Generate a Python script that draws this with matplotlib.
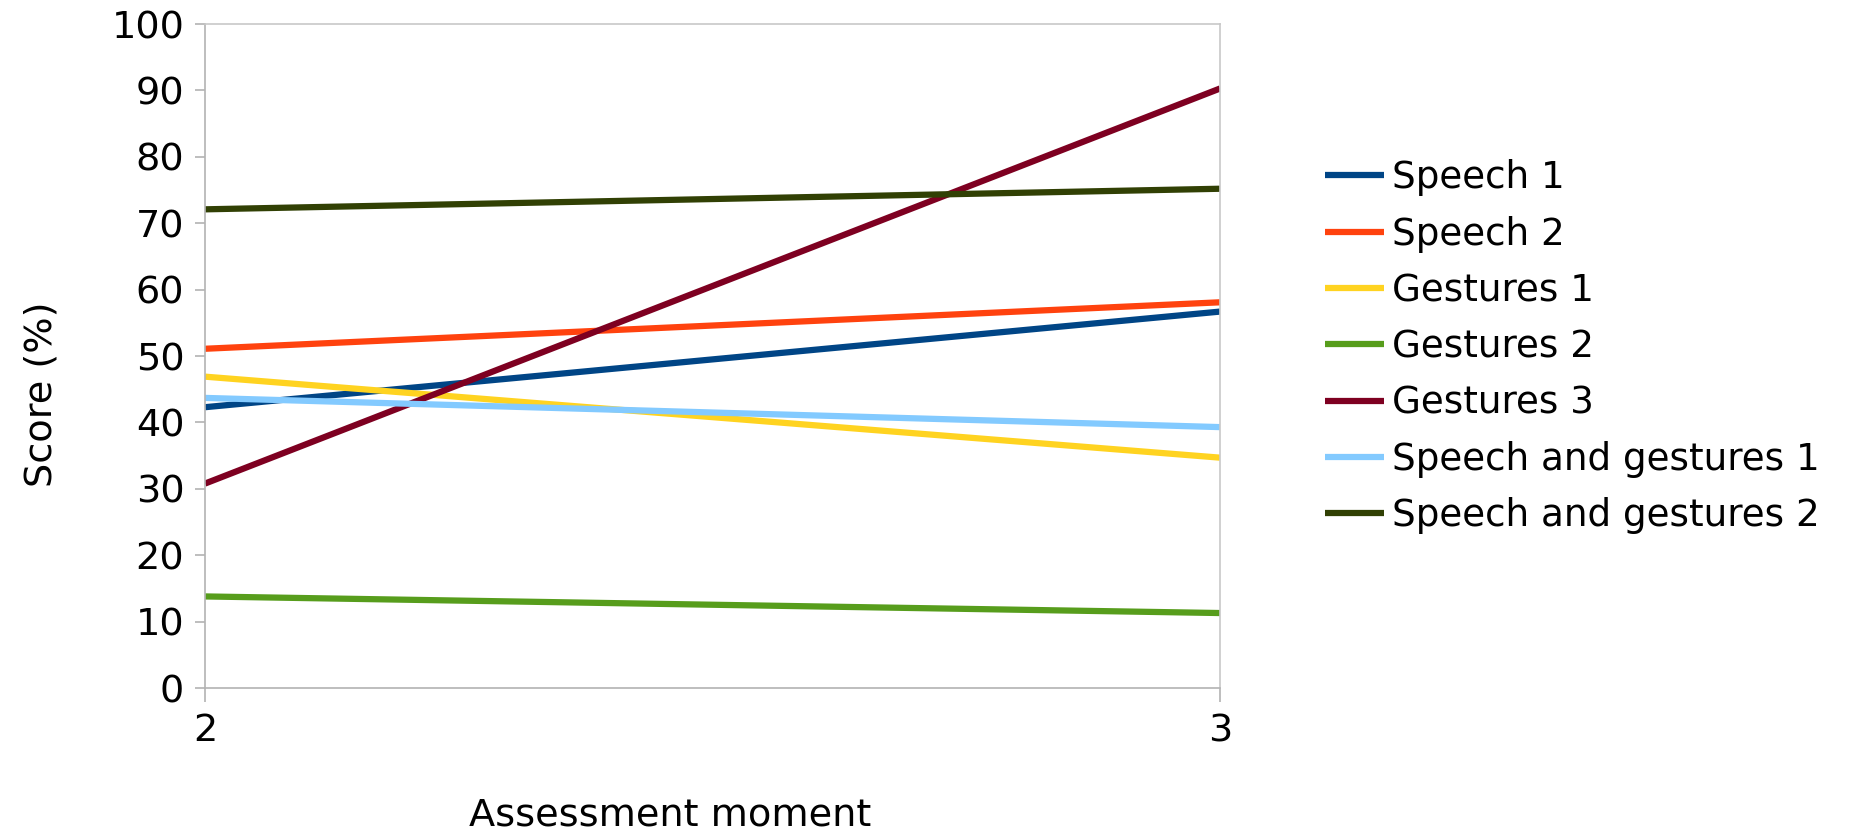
import matplotlib
matplotlib.use("Agg")
import matplotlib.pyplot as plt

# Assessment moments and scores (%)
moments = [2, 3]
series_names = [
    "Speech 1",
    "Speech 2",
    "Gestures 1",
    "Gestures 2",
    "Gestures 3",
    "Speech and gestures 1",
    "Speech and gestures 2",
]
speech_1 = [42.3, 56.7]
speech_2 = [51.1, 58.1]
gestures_1 = [46.9, 34.7]
gestures_2 = [13.8, 11.3]
gestures_3 = [30.8, 90.3]
speech_gestures_1 = [43.7, 39.3]
speech_gestures_2 = [72.1, 75.2]
y_ticks = list(range(0, 101, 10))

series_values = [speech_1, speech_2, gestures_1, gestures_2,
                 gestures_3, speech_gestures_1, speech_gestures_2]
colors = ["#004586", "#ff420e", "#ffd320", "#579d1c",
          "#7e0021", "#83caff", "#314004"]

plt.rcParams["font.family"] = ["DejaVu Sans"]
FS = 27.5

fig = plt.figure(figsize=(18.71, 8.30), dpi=100)
ax = fig.add_axes([0.1096, 0.171, 0.5425, 0.800])

for name, vals, c in zip(series_names, series_values, colors):
    ax.plot(moments, vals, color=c, lw=4.5, label=name, solid_capstyle="butt")

ax.set_xlim(2, 3)
ax.set_ylim(0, 100)
ax.set_xticks(moments)
ax.set_yticks(y_ticks)
ax.tick_params(axis="both", labelsize=FS, color="#b3b3b3", width=1.2)
ax.tick_params(axis="y", length=7, pad=8)
ax.tick_params(axis="x", length=10, pad=8)
for s in ax.spines.values():
    s.set_color("#c8c8c8")
    s.set_linewidth(1.2)
ax.spines["left"].set_color("#b3b3b3")
ax.spines["bottom"].set_color("#b3b3b3")

fig.text(0.0224, 0.525, "Score (%)", fontsize=FS, rotation=90,
         ha="center", va="center")
fig.text(0.358, 0.006, "Assessment moment", fontsize=FS,
         ha="center", va="baseline")

leg = ax.legend(loc="upper left", bbox_to_anchor=(0.708, 0.808),
                bbox_transform=fig.transFigure, frameon=False,
                fontsize=26.8, handlelength=1.6, handletextpad=0.22,
                labelspacing=0.52, borderpad=0, borderaxespad=0)

fig.savefig("out.png", dpi=100)
